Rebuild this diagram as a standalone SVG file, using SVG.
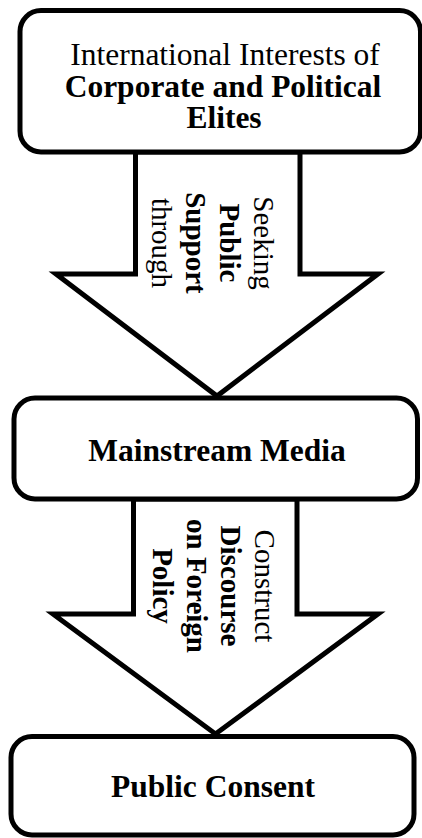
<svg xmlns="http://www.w3.org/2000/svg" width="422" height="838" viewBox="0 0 422 838">
<style>
.box{fill:#fff;stroke:#000;stroke-width:5}
.arrow{fill:#fff;stroke:#000;stroke-width:5;stroke-linejoin:miter}
text{font-family:"Liberation Serif","Times New Roman",serif;fill:#000}
.t{font-size:31.5px;text-anchor:middle}
.v{font-size:29px;text-anchor:middle}
.b{font-weight:bold}
</style>
<rect width="422" height="838" fill="#fff"/>
<g id="connectors">
<g id="arrow1">
<polygon class="arrow" points="135.5,152 300,152 300,274 378,274 217,396 56,274 135.5,274"/>
<text class="v" transform="translate(254,243) rotate(90)">Seeking</text>
<text class="v b" transform="translate(220,243) rotate(90)">Public</text>
<text class="v b" transform="translate(186,243) rotate(90)">Support</text>
<text class="v" transform="translate(152,243) rotate(90)">through</text>
</g>
<g id="arrow2">
<polygon class="arrow" points="133.5,499 297,499 297,614 378,614 215.5,734 53,614 133.5,614"/>
<text class="v" transform="translate(255,586) rotate(90)">Construct</text>
<text class="v b" transform="translate(221,586) rotate(90)">Discourse</text>
<text class="v b" transform="translate(187,586) rotate(90)">on Foreign</text>
<text class="v b" transform="translate(153,586) rotate(90)">Policy</text>
</g>
</g>
<g id="node-elites">
<rect class="box" x="20" y="10.5" width="400.5" height="141.5" rx="21" ry="21"/>
<text class="t" x="225" y="65">International Interests of</text>
<text class="t b" x="223" y="97">Corporate and Political</text>
<text class="t b" x="224" y="128">Elites</text>
</g>
<g id="node-media">
<rect class="box" x="14" y="398" width="403.5" height="101" rx="21" ry="21"/>
<text class="t b" x="217" y="461">Mainstream Media</text>
</g>
<g id="node-consent">
<rect class="box" x="11" y="736.5" width="403" height="98.5" rx="21" ry="21"/>
<text class="t b" x="213" y="797">Public Consent</text>
</g>
</svg>
